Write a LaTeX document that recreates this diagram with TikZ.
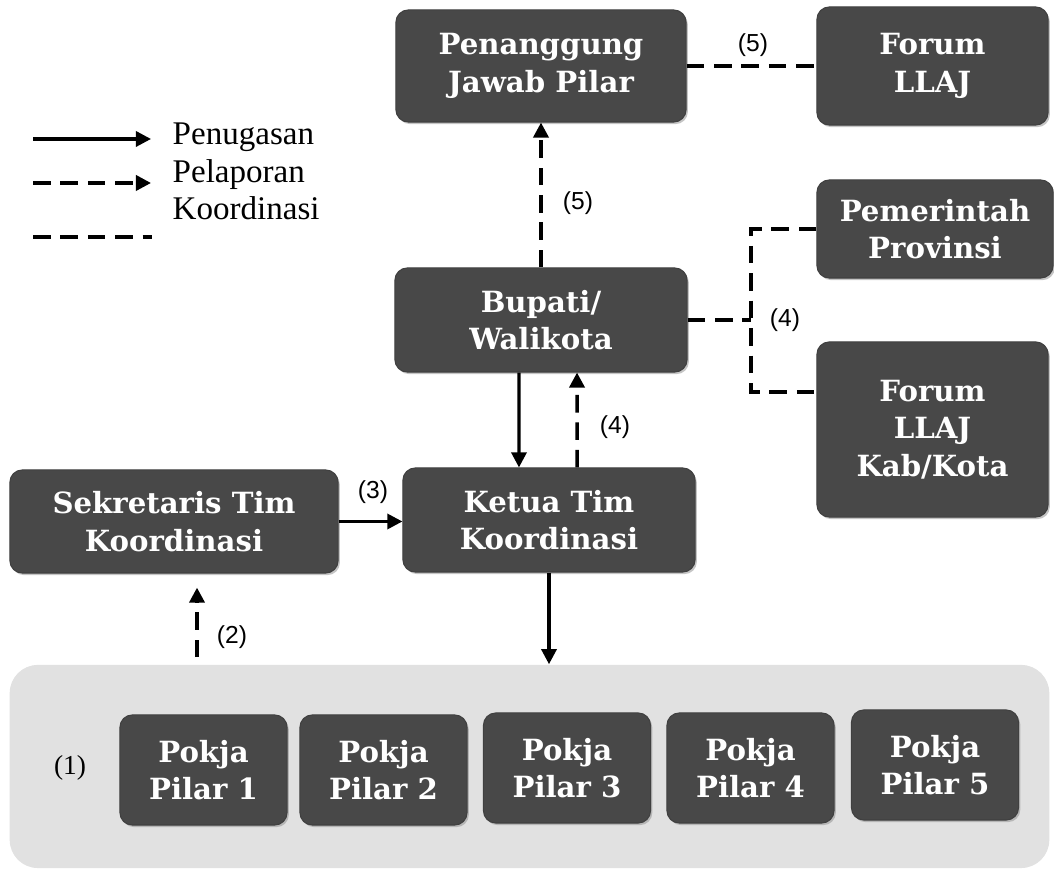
\documentclass[tikz,border=0pt]{standalone}
\usepackage{fontspec}
\setmainfont{Liberation Serif}
\newfontfamily\boxfont{DejaVu Serif}
\newfontfamily\numfont{Liberation Sans}
\usetikzlibrary{arrows.meta,shadows}

\definecolor{boxgray}{HTML}{484848}
\definecolor{panelgray}{HTML}{E1E1E1}

\begin{document}
\begin{tikzpicture}[x=0.01cm, y=-0.01cm,
  kotak/.style={rectangle, rounded corners=3.5pt, fill=boxgray, draw=black!75, line width=0.3pt,
    text=white, align=center, inner sep=0pt,
    font=\boxfont\bfseries\fontsize{8.3}{10.6}\selectfont,
    drop shadow={shadow xshift=0.5pt, shadow yshift=-0.6pt, fill=black!45}},
  pokja/.style={kotak, minimum width=1.67cm, minimum height=1.10cm},
  tugas/.style={line width=0.9pt, -{Triangle[length=4.3pt,width=4.3pt]}},
  lapor/.style={line width=1pt, dash pattern=on 5pt off 2.8pt, -{Triangle[length=4.3pt,width=4.3pt]}},
  koord/.style={line width=1pt, dash pattern=on 5pt off 2.8pt},
  nomor/.style={font=\numfont\fontsize{7}{8}\selectfont},
  legenda/.style={anchor=base west, inner sep=0pt, font=\fontsize{9.4}{10}\selectfont}]
\useasboundingbox (0,0) rectangle (1054,871);

% latar pokja
\node[rectangle, rounded corners=8pt, fill=panelgray, minimum width=10.39cm, minimum height=2.03cm] (panel) at (529.5,766.5) {};

\node[kotak, minimum width=2.90cm, minimum height=1.12cm] (pj) at (541,66) {Penanggung\\Jawab Pilar};
\node[kotak, minimum width=2.31cm, minimum height=1.18cm] (forum) at (932.5,66) {Forum\\LLAJ};
\node[kotak, minimum width=2.36cm, minimum height=0.98cm] (pemprov) at (935,229) {Pemerintah\\Provinsi};
\node[kotak, minimum width=2.92cm, minimum height=1.04cm] (bupati) at (541,320) {Bupati/\\Walikota};
\node[kotak, minimum width=2.31cm, minimum height=1.75cm] (kabkota) at (932.5,429.5) {Forum\\LLAJ\\Kab/Kota};
\node[kotak, minimum width=3.28cm, minimum height=1.03cm] (sekr) at (174,521.5) {Sekretaris Tim\\Koordinasi};
\node[kotak, minimum width=2.92cm, minimum height=1.04cm] (ketua) at (549,520) {Ketua Tim\\Koordinasi};

\node[pokja] (pokja1) at (203.5,770) {Pokja\\Pilar 1};
\node[pokja] (pokja2) at (383.5,770) {Pokja\\Pilar 2};
\node[pokja] (pokja3) at (567,768) {Pokja\\Pilar 3};
\node[pokja] (pokja4) at (750.5,768) {Pokja\\Pilar 4};
\node[pokja] (pokja5) at (935,765) {Pokja\\Pilar 5};
\node[font=\fontsize{7.8}{9}\selectfont] (n1) at (70,768) {(1)};

% legenda
\coordinate (la) at (33,139);
\coordinate (lb) at (33,183);
\coordinate (lc) at (33,237);
\draw[tugas] (la) -- +(118,0);
\draw[lapor] (lb) -- +(118,0);
\draw[koord] (lc) -- +(119,0);
\node[legenda] (tugasteks) at (172,145) {Penugasan};
\node[legenda] (laporteks) at (172,183) {Pelaporan};
\node[legenda] (koordteks) at (172,220) {Koordinasi};

% hubungan
\draw[lapor] (bupati) -- (pj);
\node[nomor] (n5a) at (578,203) {(5)};
\draw[koord] (pj.east) -- (forum.west);
\node[nomor] (n5b) at (753,45) {(5)};

\coordinate (jt) at (751,229);
\coordinate (jm) at (751,320);
\coordinate (jb) at (751,392);
\draw[koord] (bupati.east) -- (jm);
\draw[koord] (pemprov.west) -- (jt) -- (jb) -- (jb -| kabkota.west);
\node[nomor] (n4a) at (785,320) {(4)};

\draw[tugas] ([xshift=-0.22cm]bupati.south) -- ([xshift=-0.30cm]ketua.north);
\draw[lapor] ([xshift=0.28cm]ketua.north) -- ([xshift=0.36cm]bupati.south);
\node[nomor] (n4b) at (615,427) {(4)};

\draw[tugas] (sekr.east) -- (sekr.east -| ketua.west);
\node[nomor] (n3) at (373,492) {(3)};

\coordinate (s2) at ([xshift=0.23cm]sekr.south);
\draw[lapor, shorten <=2pt, shorten >=4pt] (s2 |- panel.north) -- (s2);
\node[nomor] (n2) at (232,637) {(2)};

\draw[tugas] (ketua.south) -- (ketua.south |- panel.north);
\end{tikzpicture}
\end{document}
